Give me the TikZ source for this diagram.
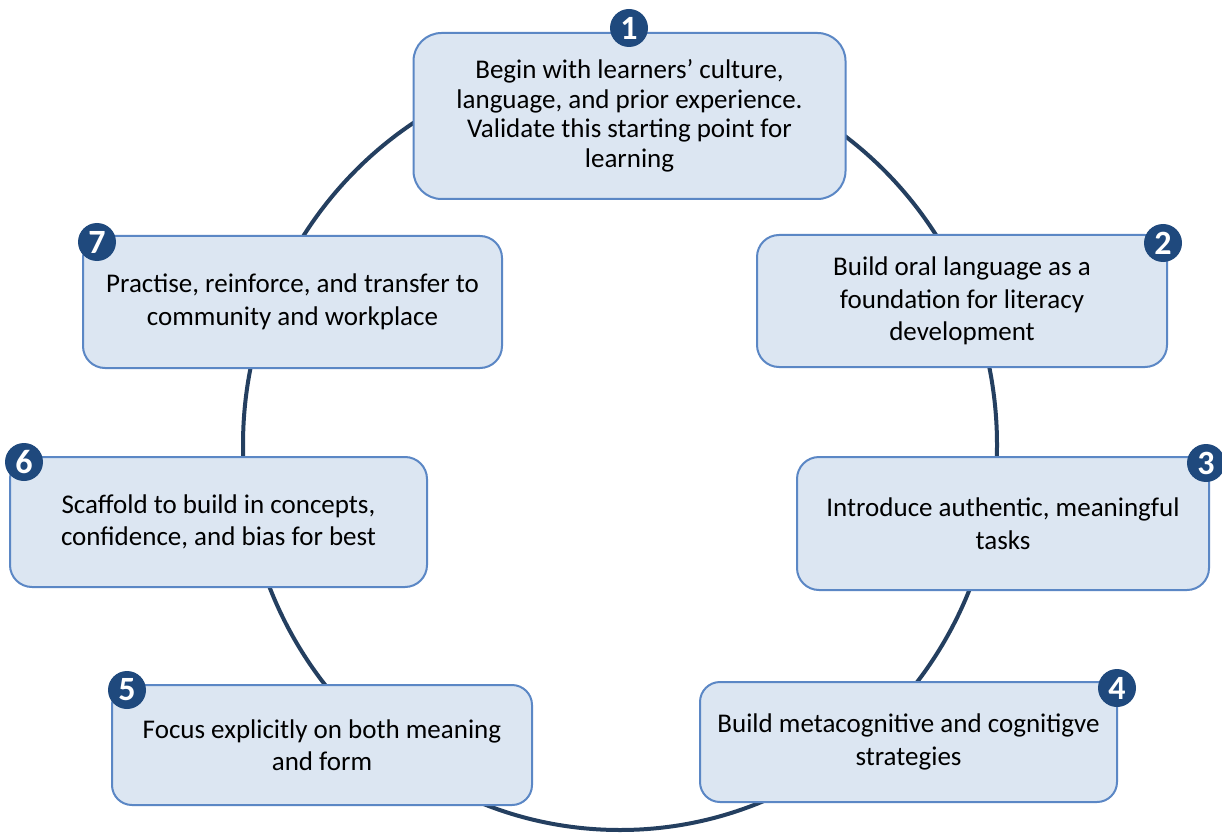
\documentclass[tikz,border=0pt]{standalone}
\usepackage{fontspec}
\setmainfont{Carlito}
\definecolor{boxfill}{HTML}{DCE6F2}
\definecolor{boxline}{HTML}{5B87C5}
\definecolor{ringcol}{HTML}{243F60}
\definecolor{badgecol}{HTML}{1F497D}
\tikzset{
  stepbox/.style={draw=boxline, fill=boxfill, line width=2pt, align=center,
    inner sep=0pt, text=black, font={\fontsize{27}{32.5}\selectfont}},
  badge/.style={circle, fill=badgecol, minimum size=38pt, inner sep=0pt,
    text=white, font={\fontsize{34}{34}\selectfont\bfseries}},
  ring/.style={draw=ringcol, line width=4pt}
}
\begin{document}
\begin{tikzpicture}[x=1pt,y=-1pt]
\clip (0,0) rectangle (1222,834);
\fill[white] (0,0) rectangle (1222,834);
\draw[ring] (620,445) ellipse [x radius=377, y radius=385];

\node[stepbox, minimum width=432pt, minimum height=166pt, rounded corners=28pt,
  font={\fontsize{27}{29.5}\selectfont}] (b1) at (629.5,116)
  {Begin with learners’ culture,\\language, and prior experience.\\Validate this starting point for\\learning};
\node[stepbox, minimum width=410pt, minimum height=132pt, rounded corners=22pt] (b2) at (962,301)
  {Build oral language as a\\foundation for literacy\\development};
\node[stepbox, minimum width=412pt, minimum height=133pt, rounded corners=22pt] (b3) at (1003,523.5)
  {Introduce authentic, meaningful\\tasks};
\node[stepbox, minimum width=417pt, minimum height=120pt, rounded corners=20pt] (b4) at (908.5,742)
  {Build metacognitive and cognitigve\\strategies};
\node[stepbox, minimum width=420pt, minimum height=120pt, rounded corners=20pt] (b5) at (322,745)
  {Focus explicitly on both meaning\\and form};
\node[stepbox, minimum width=417pt, minimum height=130pt, rounded corners=22pt] (b6) at (218.5,522)
  {Scaffold to build in concepts,\\confidence, and bias for best};
\node[stepbox, minimum width=419pt, minimum height=132pt, rounded corners=22pt] (b7) at (292.5,302)
  {Practise, reinforce, and transfer to\\community and workplace};

\node[badge] (n1) at (629,28) {1};
\node[badge] (n2) at (1163,243) {2};
\node[badge] (n3) at (1206,463) {3};
\node[badge] (n4) at (1117,688) {4};
\node[badge] (n5) at (127,690) {5};
\node[badge] (n6) at (24,462) {6};
\node[badge] (n7) at (97,242) {7};
\end{tikzpicture}
\end{document}
